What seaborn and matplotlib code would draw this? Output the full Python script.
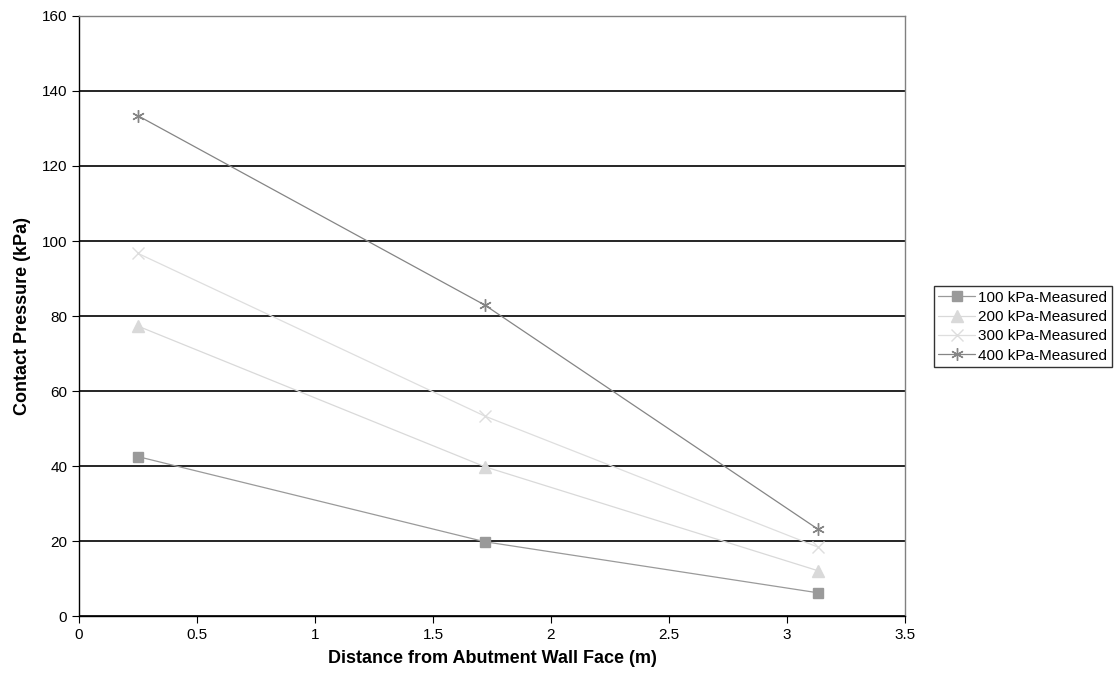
import matplotlib
matplotlib.use("Agg")
import matplotlib.pyplot as plt
import seaborn as sns
import pandas as pd

# Measured contact pressure beneath the footing
distance = [0.25, 1.72, 3.13]
p100 = [42.5, 19.8, 6.2]
p200 = [77.3, 39.8, 12.1]
p300 = [96.7, 53.3, 18.4]
p400 = [133.4, 82.9, 23.2]
series_names = ["100 kPa-Measured", "200 kPa-Measured", "300 kPa-Measured", "400 kPa-Measured"]

rows = []
for name, vals in zip(series_names, [p100, p200, p300, p400]):
    for d, v in zip(distance, vals):
        rows.append({"Distance": d, "Pressure": v, "Load": name})
df = pd.DataFrame(rows)

sns.set_style("white")
plt.rcParams["font.family"] = ["Liberation Sans", "DejaVu Sans"]
plt.rcParams["text.color"] = "black"
plt.rcParams["axes.labelcolor"] = "black"
plt.rcParams["xtick.color"] = "black"
plt.rcParams["ytick.color"] = "black"

fig = plt.figure(figsize=(11.17, 6.75), dpi=100)
ax = fig.add_axes([0.0707, 0.0874, 0.7395, 0.8889])

palette = {
    series_names[0]: "#9a9a9a",
    series_names[1]: "#d9d9d9",
    series_names[2]: "#dedede",
    series_names[3]: "#858585",
}
markers = {
    series_names[0]: "s",
    series_names[1]: "^",
    series_names[2]: "x",
    series_names[3]: (6, 2, 0),
}
sizes = {series_names[0]: 7, series_names[1]: 8, series_names[2]: 8, series_names[3]: 9}

for name in series_names:
    sub = df[df["Load"] == name]
    sns.lineplot(data=sub, x="Distance", y="Pressure", ax=ax, color=palette[name],
                 marker=markers[name], markersize=sizes[name], linewidth=0.9,
                 markeredgecolor=palette[name], markerfacecolor=palette[name],
                 markeredgewidth=1.0, label=name, legend=False)

ax.set_xlim(0, 3.5)
ax.set_ylim(0, 160)
ax.set_xticks([0, 0.5, 1, 1.5, 2, 2.5, 3, 3.5])
ax.set_xticklabels(["0", "0.5", "1", "1.5", "2", "2.5", "3", "3.5"])
ax.set_yticks(range(0, 161, 20))
ax.yaxis.grid(True, color="black", linewidth=1.2)
ax.xaxis.grid(False)
ax.set_axisbelow(True)

for side in ["top", "right"]:
    ax.spines[side].set_color("#808080")
    ax.spines[side].set_linewidth(1.0)
for side in ["left", "bottom"]:
    ax.spines[side].set_color("black")
    ax.spines[side].set_linewidth(1.0)

ax.tick_params(axis="both", which="major", labelsize=11, length=5, direction="out",
               color="black", labelcolor="black", left=True, bottom=True)
ax.set_xlabel("Distance from Abutment Wall Face (m)", fontsize=13, fontweight="bold", labelpad=6)
ax.set_ylabel("Contact Pressure (kPa)", fontsize=13, fontweight="bold", labelpad=8)

handles, labels = ax.get_legend_handles_labels()
leg = fig.legend(handles, labels, loc="center left", bbox_to_anchor=(0.836, 0.516),
                 fontsize=11, frameon=True, fancybox=False, handlelength=2.4,
                 handletextpad=0.2, borderpad=0.3, labelspacing=0.35, borderaxespad=0)
leg.get_frame().set_edgecolor("black")
leg.get_frame().set_linewidth(1.0)
for t in leg.get_texts():
    t.set_color("black")

fig.savefig("out.png", dpi=100)
